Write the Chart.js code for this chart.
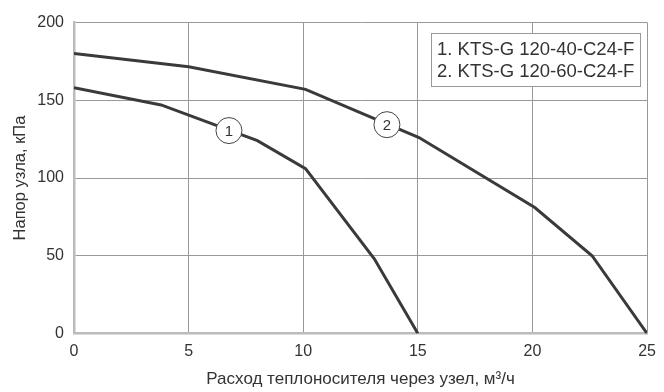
<!DOCTYPE html>
<html><head><meta charset="utf-8">
<script src="https://cdn.jsdelivr.net/npm/chart.js@4/dist/chart.umd.min.js"></script>
<style>html,body{margin:0;padding:0;background:#fff}#w{width:664px;height:392px}</style>
</head><body><div id="w"><canvas id="c"></canvas></div>
<script>
const xTicks = [0, 5, 10, 15, 20, 25];
const yTicks = [0, 50, 100, 150, 200];
const series1X = [0, 3.8, 8.0, 10.1, 13.1, 15];
const series1Y = [158, 147, 124, 106, 48, 0];
const series2X = [0, 5, 10.1, 15.05, 20.1, 22.6, 25];
const series2Y = [180, 171.5, 157, 126, 81, 50, 0];
const legendLabels = ["1. KTS-G 120-40-C24-F", "2. KTS-G 120-60-C24-F"];
const curveMarks = [{label: "1", x: 6.76, y: 130.5}, {label: "2", x: 13.65, y: 134.3}];
const xTitle = "Расход теплоносителя через узел, м³/ч";
const yTitle = "Напор узла, кПа";

const FONT = "'Liberation Sans', Arial, sans-serif";
const pts = (xs, ys) => xs.map((x, i) => ({x, y: ys[i]}));

const overlay = {
  id: 'overlay',
  afterDatasetsDraw(chart) {
    const {ctx, scales: {x, y}} = chart;
    ctx.save();
    curveMarks.forEach(m => {
      const px = x.getPixelForValue(m.x), py = y.getPixelForValue(m.y);
      ctx.beginPath();
      ctx.arc(px, py, 13, 0, Math.PI * 2);
      ctx.fillStyle = '#fff'; ctx.fill();
      ctx.lineWidth = 1; ctx.strokeStyle = '#444'; ctx.stroke();
      ctx.fillStyle = '#333'; ctx.font = '15px ' + FONT;
      ctx.textAlign = 'center'; ctx.textBaseline = 'middle';
      ctx.fillText(m.label, px, py + 1);
    });
    const bx = 431.5, by = 33.5, bw = 209, bh = 53;
    ctx.fillStyle = '#fff'; ctx.fillRect(bx, by, bw, bh);
    ctx.strokeStyle = '#999'; ctx.lineWidth = 1; ctx.strokeRect(bx, by, bw, bh);
    ctx.fillStyle = '#333'; ctx.font = '18.5px ' + FONT;
    ctx.textAlign = 'left'; ctx.textBaseline = 'middle';
    legendLabels.forEach((t, i) => ctx.fillText(t, bx + 5.5, by + 16.5 + i * 21.5));
    ctx.restore();
  }
};

new Chart(document.getElementById('c'), {
  type: 'scatter',
  data: {
    datasets: [
      {data: pts(series1X, series1Y), showLine: true, borderColor: '#3a3a3a', borderWidth: 3, pointRadius: 0, fill: false},
      {data: pts(series2X, series2Y), showLine: true, borderColor: '#3a3a3a', borderWidth: 3, pointRadius: 0, fill: false}
    ]
  },
  options: {
    responsive: true, maintainAspectRatio: false, animation: false,
    layout: {padding: {left: 0, right: 12, top: 22.5, bottom: 0}},
    plugins: {legend: {display: false}, tooltip: {enabled: false}},
    scales: {
      x: {
        type: 'linear', min: 0, max: 25,
        afterBuildTicks: s => { s.ticks = xTicks.map(v => ({value: v})); },
        afterFit: s => { s.height = 58.5; },
        ticks: {color: '#333', font: {family: FONT, size: 16}, padding: 8, maxRotation: 0},
        grid: {color: '#999', lineWidth: 1, drawTicks: false},
        border: {color: '#bbb', width: 2.5},
        title: {display: true, text: xTitle, color: '#333', font: {family: FONT, size: 17}, padding: {top: 0, bottom: 2.5}}
      },
      y: {
        type: 'linear', min: 0, max: 200,
        afterBuildTicks: s => { s.ticks = yTicks.map(v => ({value: v})); },
        afterFit: s => { s.width = 74; },
        ticks: {color: '#333', font: {family: FONT, size: 16}, padding: 10},
        grid: {color: '#999', lineWidth: 1, drawTicks: false},
        border: {color: '#bbb', width: 2.5},
        title: {display: true, text: yTitle, color: '#333', font: {family: FONT, size: 16.5}, padding: {top: 11, bottom: 0}}
      }
    }
  },
  plugins: [overlay]
});
</script></body></html>
